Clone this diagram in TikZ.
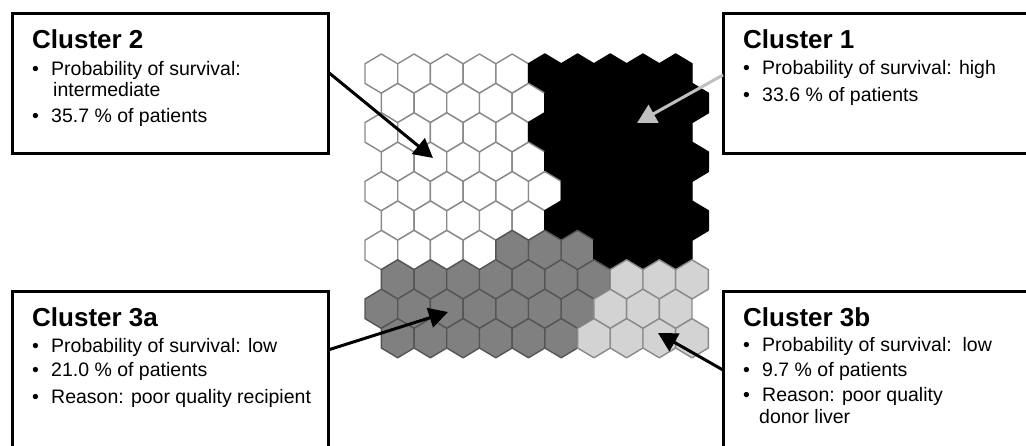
\documentclass[tikz,border=0pt]{standalone}
\usepackage{fontspec}
\setmainfont{Liberation Sans}
\usetikzlibrary{arrows.meta}
\definecolor{hexline}{HTML}{8A8A8A}
\definecolor{darkfill}{HTML}{808080}
\definecolor{darkline}{HTML}{555555}
\definecolor{lightfill}{HTML}{D3D3D3}
\definecolor{arrowgray}{HTML}{C0C0C0}
\newcommand\mybullet{\makebox[19pt][l]{•}}
\begin{document}
\begin{tikzpicture}[x=1pt,y=-1pt,
  wc/.style={fill=white,draw=hexline},
  bc/.style={fill=black,draw=black},
  gc/.style={fill=darkfill,draw=darkline},
  lc/.style={fill=lightfill,draw=hexline},
  hexcell/.style={line width=1.4pt,line join=round},
  box/.style={draw=black,line width=3pt,fill=white,inner sep=0pt,outer sep=0pt},
  title/.style={font=\fontsize{26}{30}\selectfont\bfseries,anchor=base west,inner sep=0pt},
  item/.style={font=\fontsize{19.5}{22}\selectfont,anchor=base west,inner sep=0pt},
  arrowblk/.style={draw=black,line width=3pt,-{Triangle[length=19pt,width=20pt]}},
  arrowlgt/.style={draw=arrowgray,line width=3pt,-{Triangle[length=19pt,width=20pt]}}]
\useasboundingbox (0,0) rectangle (1026,446);
\clip (0,0) rectangle (1026,446);
% hexagon grid
\foreach \r/\row in {
  1/{wc,wc,wc,wc,wc,bc,bc,bc,bc,bc},
  2/{wc,wc,wc,wc,wc,bc,bc,bc,bc,bc},
  3/{wc,wc,wc,wc,wc,bc,bc,bc,bc,bc},
  4/{wc,wc,wc,wc,wc,bc,bc,bc,bc,bc},
  5/{wc,wc,wc,wc,wc,wc,bc,bc,bc,bc},
  6/{wc,wc,wc,wc,wc,bc,bc,bc,bc,bc},
  7/{wc,wc,wc,wc,gc,gc,gc,bc,bc,bc},
  8/{gc,gc,gc,gc,gc,gc,gc,lc,lc,lc},
  9/{gc,gc,gc,gc,gc,gc,gc,lc,lc,lc},
  10/{gc,gc,gc,gc,gc,gc,lc,lc,lc,lc}}{
  \foreach \s [count=\c] in \row {
    \pgfmathsetmacro\cx{365+16.35+(\c-1)*32.7+mod(\r+1,2)*16.35}
    \pgfmathsetmacro\cy{54+19.6+(\r-1)*29.4}
    \draw[hexcell,\s] ({\cx},{\cy-19.6}) -- ({\cx+16.35},{\cy-9.8}) -- ({\cx+16.35},{\cy+9.8})
      -- ({\cx},{\cy+19.6}) -- ({\cx-16.35},{\cy+9.8}) -- ({\cx-16.35},{\cy-9.8}) -- cycle;
  }
}
% boxes
\node[box,minimum width=316pt,minimum height=140pt] (box2) at (170,84) {};
\node[box,minimum width=317pt,minimum height=140pt] (box1) at (881.5,84) {};
\node[box,minimum width=316pt,minimum height=168pt] (box3a) at (170,376) {};
\node[box,minimum width=317pt,minimum height=168pt] (box3b) at (881.5,376) {};
% texts cluster 2
\node[title] (t2) at (32,49) {Cluster 2};
\node[item] (t2a) at (32,76) {\mybullet Probability of survival:};
\node[item] (t2b) at (53,97) {intermediate};
\node[item] (t2c) at (32,123) {\mybullet 35.7 \% of patients};
% texts cluster 1
\node[title] (t1) at (743,49) {Cluster 1};
\node[item] (t1a) at (743,75) {\mybullet Probability of survival: high};
\node[item] (t1b) at (743,102) {\mybullet 33.6 \% of patients};
% texts cluster 3a
\node[title] (t3a) at (32,327) {Cluster 3a};
\node[item] (t3aa) at (32,353) {\mybullet Probability of survival: low};
\node[item] (t3ab) at (32,377) {\mybullet 21.0 \% of patients};
\node[item] (t3ac) at (32,403) {\mybullet Reason: poor quality recipient};
% texts cluster 3b
\node[title] (t3b) at (743,327) {Cluster 3b};
\node[item] (t3ba) at (743,352) {\mybullet Probability of survival:\ \ low};
\node[item] (t3bb) at (743,377) {\mybullet 9.7 \% of patients};
\node[item] (t3bc) at (743,402) {\mybullet Reason: poor quality};
\node[item] (t3bd) at (759,423) {donor liver};
% arrow targets
\coordinate (tip2) at (433,158);
\coordinate (tip1) at (637,123);
\coordinate (tip3a) at (448,312);
\coordinate (tip3b) at (658,333);
% arrows
\draw[arrowblk] ([yshift=12pt]box2.east) -- (tip2);
\draw[arrowlgt] ([yshift=9pt]box1.west) -- (tip1);
\draw[arrowblk] ([yshift=26pt]box3a.east) -- (tip3a);
\draw[arrowblk] ([yshift=6pt]box3b.west) -- (tip3b);
\end{tikzpicture}
\end{document}
